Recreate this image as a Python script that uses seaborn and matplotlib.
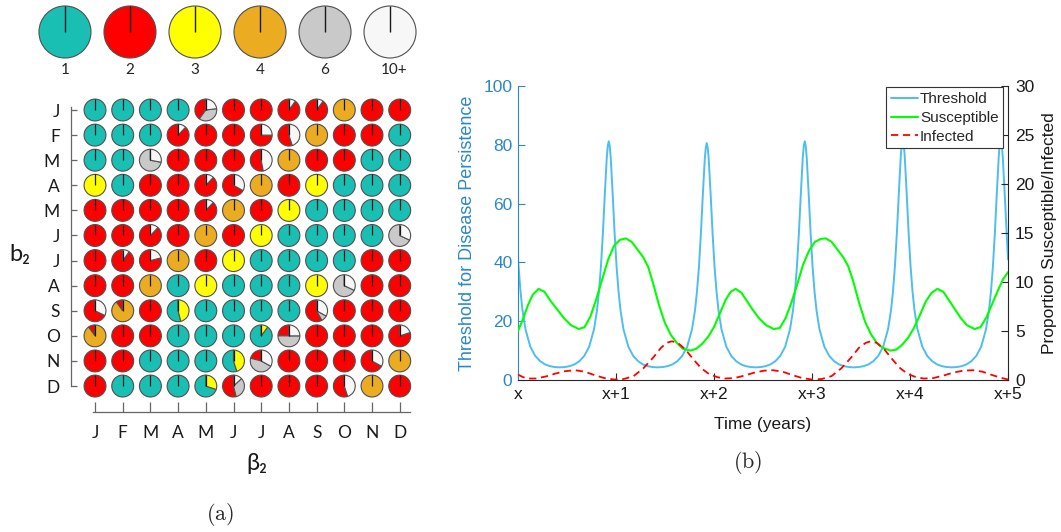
import matplotlib
matplotlib.use("Agg")
import matplotlib.pyplot as plt
import pandas as pd
import seaborn as sns

W, H = 1061, 532

# ---------------------------------------------------------------- panel (a) data
CATEGORIES = [1, 2, 3, 4, 6, 10]
CATEGORY_LABELS = ["1", "2", "3", "4", "6", "10+"]
CATEGORY_COLORS = ["#1ABFB3", "#FF0000", "#FFFF00", "#EBAC22", "#C9C9C9", "#F7F7F7"]

MONTHS = ["J", "F", "M", "A", "M", "J", "J", "A", "S", "O", "N", "D"]

# rows: b2 month (J..D, top to bottom); columns: beta2 month (J..D)
# an int is a single outbreak-count category, a dict gives category shares
OUTBREAKS = [
    [1, 1, 1, 1, {2: .40, 6: .37, 10: .23}, 2, 2, {2: .90, 10: .10}, {2: .90, 10: .10}, 4, 2, 2],
    [1, 1, 1, {2: .88, 10: .12}, 2, 2, {2: .75, 10: .25}, {2: .55, 10: .45}, 4, 2, 2, 1],
    [1, 1, {6: .72, 10: .28}, 2, 2, 2, {2: .53, 10: .47}, 4, 2, 2, 1, 1],
    [3, 1, 2, 2, {2: .88, 10: .12}, {2: .67, 10: .33}, 4, 2, 3, 1, 1, 1],
    [2, 2, 2, 2, {2: .88, 10: .12}, 4, 2, 3, 1, 1, 1, 1],
    [2, 2, {2: .88, 10: .12}, 2, 4, 2, 3, 1, 1, 1, 1, {6: .68, 10: .32}],
    [2, {2: .90, 10: .10}, {2: .79, 10: .21}, 4, 2, 3, 1, 1, 1, 1, 2, 2],
    [2, 2, 4, 1, 3, 1, 1, 1, 3, {6: .68, 10: .32}, 2, 2],
    [{2: .68, 10: .32}, {2: .10, 4: .90}, 2, {1: .54, 3: .46}, 1, 1, 1, 1,
     {2: .58, 6: .09, 10: .33}, 2, 2, 2],
    [{2: .10, 4: .90}, 2, 2, 1, 1, 1, {1: .90, 3: .10}, {2: .25, 6: .50, 10: .25},
     2, 2, 2, {2: .80, 10: .20}],
    [2, 2, 1, 1, 1, {1: .55, 3: .45}, {2: .21, 6: .46, 10: .33}, 2, 2, 2, {2: .67, 10: .33}, 4],
    [2, 1, 1, 1, {1: .70, 3: .30}, {2: .54, 6: .33, 10: .13}, 2, 2, 2, {2: .55, 10: .45}, 4, 2],
]

# ---------------------------------------------------------------- panel (b) data
YEAR_TICKS = [0, 1, 2, 3, 4, 5]
YEAR_LABELS = ["x", "x+1", "x+2", "x+3", "x+4", "x+5"]

THRESH_T = [
    0.000, 0.026, 0.046, 0.076, 0.126, 0.176, 0.226, 0.276, 0.326, 0.376,
    0.426, 0.476, 0.526, 0.576, 0.626, 0.676, 0.726, 0.776, 0.806, 0.826, 0.846, 0.866, 0.886, 0.906, 0.916,
    0.926, 0.936, 0.946, 0.966, 0.986, 1.006, 1.026, 1.046, 1.076, 1.126, 1.176, 1.226, 1.276, 1.326, 1.376,
    1.426, 1.476, 1.526, 1.576, 1.626, 1.676, 1.726, 1.776, 1.806, 1.826, 1.846, 1.866, 1.886, 1.906, 1.916,
    1.926, 1.936, 1.946, 1.966, 1.986, 2.006, 2.026, 2.046, 2.076, 2.126, 2.176, 2.226, 2.276, 2.326, 2.376,
    2.426, 2.476, 2.526, 2.576, 2.626, 2.676, 2.726, 2.776, 2.806, 2.826, 2.846, 2.866, 2.886, 2.906, 2.916,
    2.926, 2.936, 2.946, 2.966, 2.986, 3.006, 3.026, 3.046, 3.076, 3.126, 3.176, 3.226, 3.276, 3.326, 3.376,
    3.426, 3.476, 3.526, 3.576, 3.626, 3.676, 3.726, 3.776, 3.806, 3.826, 3.846, 3.866, 3.886, 3.906, 3.916,
    3.926, 3.936, 3.946, 3.966, 3.986, 4.006, 4.026, 4.046, 4.076, 4.126, 4.176, 4.226, 4.276, 4.326, 4.376,
    4.426, 4.476, 4.526, 4.576, 4.626, 4.676, 4.726, 4.776, 4.806, 4.826, 4.846, 4.866, 4.886, 4.906, 4.916,
    4.926, 4.936, 4.946, 4.966, 4.986, 5.000,
]
THRESH_V = [
    41.0, 30.0, 23.7, 17.3, 11.3, 8.2, 6.4, 5.3, 4.7, 4.4,
    4.3, 4.4, 4.7, 5.3, 6.4, 8.2, 11.3, 17.3, 23.7, 30.0, 38.5, 49.8, 63.3, 75.7, 79.6,
    81.2, 79.6, 75.7, 63.3, 49.8, 38.5, 30.0, 23.7, 17.3, 11.3, 8.2, 6.4, 5.3, 4.7, 4.4,
    4.3, 4.4, 4.7, 5.3, 6.4, 8.2, 11.3, 17.3, 23.7, 30.0, 38.3, 49.6, 63.0, 75.2, 79.0,
    80.6, 79.0, 75.2, 63.0, 49.6, 38.3, 30.0, 23.7, 17.3, 11.3, 8.2, 6.4, 5.3, 4.7, 4.4,
    4.3, 4.4, 4.7, 5.3, 6.4, 8.2, 11.3, 17.3, 23.7, 30.0, 38.5, 49.8, 63.3, 75.7, 79.6,
    81.2, 79.6, 75.7, 63.3, 49.8, 38.5, 30.0, 23.7, 17.3, 11.3, 8.2, 6.4, 5.3, 4.7, 4.4,
    4.3, 4.4, 4.7, 5.3, 6.4, 8.2, 11.3, 17.3, 23.7, 30.0, 38.6, 50.0, 63.6, 76.2, 80.3,
    81.9, 80.3, 76.2, 63.6, 50.0, 38.6, 30.0, 23.7, 17.3, 11.3, 8.2, 6.4, 5.3, 4.7, 4.4,
    4.3, 4.4, 4.7, 5.3, 6.4, 8.2, 11.3, 17.3, 23.7, 30.0, 38.6, 50.0, 63.6, 76.2, 80.3,
    81.9, 80.3, 76.2, 63.6, 50.0, 41.0,
]

SUSC_T = [
    0.00, 0.05, 0.10, 0.15, 0.21, 0.27, 0.33, 0.40, 0.47, 0.54, 0.62, 0.68, 0.74, 0.80, 0.86,
    0.92, 0.98, 1.04, 1.10, 1.16, 1.22, 1.28, 1.33, 1.38, 1.44, 1.50, 1.56, 1.62, 1.68, 1.76,
    1.82, 1.88, 1.94, 2.00, 2.06, 2.12, 2.17, 2.22, 2.28, 2.34, 2.40, 2.46, 2.53, 2.61, 2.67,
    2.73, 2.79, 2.85, 2.91, 2.97, 3.03, 3.09, 3.14, 3.20, 3.26, 3.32, 3.37, 3.42, 3.48, 3.54,
    3.60, 3.66, 3.72, 3.80, 3.86, 3.92, 3.98, 4.04, 4.10, 4.16, 4.22, 4.28, 4.34, 4.40, 4.46,
    4.52, 4.58, 4.66, 4.72, 4.78, 4.84, 4.90, 4.95, 5.00,
]
SUSC_V = [
    5.0, 6.2, 7.6, 8.7, 9.3, 9.0, 8.1, 7.2, 6.3, 5.6, 5.2, 5.4, 6.5, 8.3, 10.3,
    12.3, 13.7, 14.3, 14.45, 14.1, 13.3, 12.5, 11.5, 9.8, 7.6, 5.8, 4.6, 3.8, 3.2, 3.0,
    3.2, 3.7, 4.4, 5.4, 6.8, 8.2, 9.0, 9.3, 8.9, 8.0, 7.1, 6.3, 5.6, 5.2, 5.3,
    6.3, 7.9, 9.8, 11.8, 13.2, 14.1, 14.4, 14.45, 14.1, 13.3, 12.5, 11.6, 10.1, 7.9, 6.0,
    4.7, 3.8, 3.3, 3.0, 3.1, 3.6, 4.3, 5.3, 6.6, 8.0, 8.9, 9.3, 9.0, 8.1, 7.2,
    6.3, 5.6, 5.2, 5.4, 6.4, 7.8, 9.2, 10.3, 11.0,
]

INF_T = [
    0.00, 0.05, 0.10, 0.18, 0.28, 0.38, 0.48, 0.58, 0.68, 0.78, 0.88, 0.98, 1.08, 1.18, 1.28,
    1.38, 1.46, 1.52, 1.57, 1.63, 1.71, 1.79, 1.87, 1.95, 2.03, 2.11, 2.21, 2.31, 2.41, 2.51,
    2.60, 2.70, 2.80, 2.90, 3.00, 3.10, 3.20, 3.30, 3.40, 3.48, 3.55, 3.60, 3.66, 3.74, 3.82,
    3.90, 3.98, 4.06, 4.14, 4.24, 4.34, 4.44, 4.54, 4.64, 4.74, 4.84, 4.92, 5.00,
]
INF_V = [
    0.55, 0.30, 0.15, 0.15, 0.35, 0.65, 0.90, 1.00, 0.85, 0.50, 0.20, 0.05, 0.10, 0.40, 1.20,
    2.30, 3.30, 3.80, 3.95, 3.80, 3.10, 2.10, 1.20, 0.60, 0.30, 0.15, 0.20, 0.45, 0.75, 0.95,
    1.00, 0.85, 0.50, 0.20, 0.05, 0.10, 0.40, 1.20, 2.30, 3.30, 3.80, 3.95, 3.80, 3.10, 2.10,
    1.20, 0.60, 0.30, 0.15, 0.20, 0.45, 0.75, 0.95, 1.00, 0.85, 0.50, 0.25, 0.05,
]

# ---------------------------------------------------------------- style
sns.set_theme(style="white")
plt.rcParams["font.family"] = ["Liberation Sans", "DejaVu Sans"]
plt.rcParams["axes.unicode_minus"] = False
plt.rcParams["mathtext.fontset"] = "cm"

fig = plt.figure(figsize=(W / 100, H / 100), dpi=100)
fig.patch.set_facecolor("white")


def px_axes(x0, y0, x1, y1):
    """Axes placed by pixel box (left, top, right, bottom)."""
    return fig.add_axes([x0 / W, 1 - y1 / H, (x1 - x0) / W, (y1 - y0) / H])


LEFT_FONT = ["Lato", "DejaVu Sans"]
EDGE = "#505050"
WEDGE = dict(edgecolor=EDGE, linewidth=0.8)


def draw_pie(ax, shares, cx, cy, radius, lw_line):
    vals, cols = [], []
    for cat, col in zip(CATEGORIES, CATEGORY_COLORS):
        v = shares.get(cat, 0)
        if v > 0:
            vals.append(v)
            cols.append(col)
    ax.pie(vals, colors=cols, center=(cx, cy), radius=radius, startangle=90,
           counterclock=True, wedgeprops=WEDGE, frame=True)
    ax.plot([cx, cx], [cy, cy + radius], color="#1a1a1a", lw=lw_line,
            solid_capstyle="butt", zorder=5)


# ---------------------------------------------------------------- legend pies
axl = px_axes(30, 0, 425, 90)
for i, (cat, lab) in enumerate(zip(CATEGORIES, CATEGORY_LABELS)):
    draw_pie(axl, {cat: 1.0}, i, 0.0, 0.40, 1.0)
    axl.text(i + (0.06 if lab == "10+" else 0), -0.585, lab, ha="center", va="center",
             fontsize=11, family=LEFT_FONT, color="#222222")
axl.set_aspect("auto")
axl.set_xlim(-0.538, 5.538)
axl.set_ylim(-0.892, 0.492)
axl.axis("off")

# ---------------------------------------------------------------- grid of pies
ROW_STEP = 0.906
R_CELL = 0.395
axg = px_axes(66, 95, 415, 415)
n_rows = len(OUTBREAKS)
row_y = [(n_rows - 1 - r) * ROW_STEP for r in range(n_rows)]
for r, row in enumerate(OUTBREAKS):
    for c, cell in enumerate(row):
        shares = cell if isinstance(cell, dict) else {cell: 1.0}
        draw_pie(axg, shares, c, row_y[r], R_CELL, 0.9)

axg.set_aspect("auto")
axg.set_xlim(-1.047, 11.552)
axg.set_ylim(-1.045, 10.508)
axg.set_frame_on(True)
for side in ("top", "right"):
    axg.spines[side].set_visible(False)
for side in ("left", "bottom"):
    axg.spines[side].set_visible(True)
    axg.spines[side].set_color("#666666")
    axg.spines[side].set_linewidth(0.9)
axg.spines["left"].set_position(("data", -0.866))
axg.spines["left"].set_bounds(0, row_y[0] + 0.11)
axg.spines["bottom"].set_position(("data", -0.937))
axg.spines["bottom"].set_bounds(-0.07, 11.37)
axg.set_xticks(range(len(MONTHS)))
axg.set_xticklabels(MONTHS, family=LEFT_FONT, fontsize=12.5)
axg.set_yticks(row_y)
axg.set_yticklabels(MONTHS, family=LEFT_FONT, fontsize=12.5)
axg.tick_params(axis="x", direction="in", length=7, width=0.9, color="#666666",
                pad=9, labelcolor="#1a1a1a", bottom=True)
axg.tick_params(axis="y", direction="in", length=4.5, width=0.9, color="#666666",
                pad=8, labelcolor="#1a1a1a", left=True)

fig.text(20 / W, 1 - 255 / H, "b₂", fontsize=17, family=LEFT_FONT,
         ha="center", va="center", color="#1a1a1a")
fig.text(257 / W, 1 - 463 / H, "β₂", fontsize=17, family=LEFT_FONT,
         ha="center", va="center", color="#1a1a1a")
fig.text(220 / W, 1 - 515 / H, r"$\mathrm{(a)}$", fontsize=16, ha="center", va="center")
fig.text(748 / W, 1 - 462 / H, r"$\mathrm{(b)}$", fontsize=16, ha="center", va="center")

# ---------------------------------------------------------------- time series panel
BLUE_AX = "#2B87C8"
ax1 = px_axes(518, 86, 1008, 380)
thr = pd.DataFrame({"t": THRESH_T, "v": THRESH_V})
sns.lineplot(data=thr, x="t", y="v", ax=ax1, color="#4DBEEE", linewidth=1.4,
             sort=False, estimator=None, label="Threshold")
ax1.set_xlim(0, 5)
ax1.set_ylim(0, 100)

ax2 = ax1.twinx()
sus = pd.DataFrame({"t": SUSC_T, "v": SUSC_V})
inf = pd.DataFrame({"t": INF_T, "v": INF_V})
sns.lineplot(data=sus, x="t", y="v", ax=ax2, color="#00FF00", linewidth=1.5,
             sort=False, estimator=None, label="Susceptible")
sns.lineplot(data=inf, x="t", y="v", ax=ax2, color="#FF0000", linewidth=1.3,
             sort=False, estimator=None, label="Infected")
ax2.lines[-1].set_linestyle((0, (4.0, 2.6)))
ax2.set_ylim(0, 30)
ax2.set_xlim(0, 5)

for a in (ax1, ax2):
    a.set_facecolor("none")
    a.spines["top"].set_visible(False)
ax1.spines["right"].set_visible(False)
ax1.spines["left"].set_color(BLUE_AX)
ax1.spines["bottom"].set_color("#262626")
for s in ("left", "bottom"):
    ax1.spines[s].set_linewidth(0.8)
ax2.spines["left"].set_visible(False)
ax2.spines["bottom"].set_visible(False)
ax2.spines["right"].set_color("#262626")
ax2.spines["right"].set_linewidth(0.8)

ax1.set_xticks(YEAR_TICKS)
ax1.set_xticklabels(YEAR_LABELS)
ax1.set_yticks([0, 20, 40, 60, 80, 100])
ax2.set_yticks([0, 5, 10, 15, 20, 25, 30])
ax1.tick_params(axis="x", direction="in", length=5, width=0.8, color="#262626",
                labelsize=12.5, pad=5, labelcolor="#1a1a1a", bottom=True)
ax1.tick_params(axis="y", direction="in", length=5, width=0.8, color=BLUE_AX,
                labelsize=12.5, pad=4, labelcolor=BLUE_AX, left=True)
ax2.tick_params(axis="y", direction="in", length=5, width=0.8, color="#262626",
                labelsize=12.5, pad=5, labelcolor="#1a1a1a", right=True)

ax1.set_xlabel("Time (years)", fontsize=12.5, color="#1a1a1a")
ax1.xaxis.set_label_coords(0.5, -0.125)
ax1.set_ylabel("Threshold for Disease Persistence", fontsize=13, color=BLUE_AX)
ax1.yaxis.set_label_coords(-0.085, 0.5)
ax2.set_ylabel("Proportion Susceptible/Infected", fontsize=12.5, color="#1a1a1a")
ax2.yaxis.set_label_coords(1.07, 0.5)

handles = ax1.get_lines()[:1] + ax2.get_lines()[:2]
if ax1.get_legend() is not None:
    ax1.get_legend().remove()
leg = ax2.legend(handles, ["Threshold", "Susceptible", "Infected"], loc="upper right",
                 bbox_to_anchor=(0.99, 0.995), frameon=True, fancybox=False,
                 edgecolor="#333333", framealpha=1.0, fontsize=11,
                 handlelength=1.8, handletextpad=0.12, borderpad=0.3,
                 labelspacing=0.32, borderaxespad=0.0)
leg.get_frame().set_linewidth(0.8)

fig.savefig("out.png", dpi=100, facecolor="white")
